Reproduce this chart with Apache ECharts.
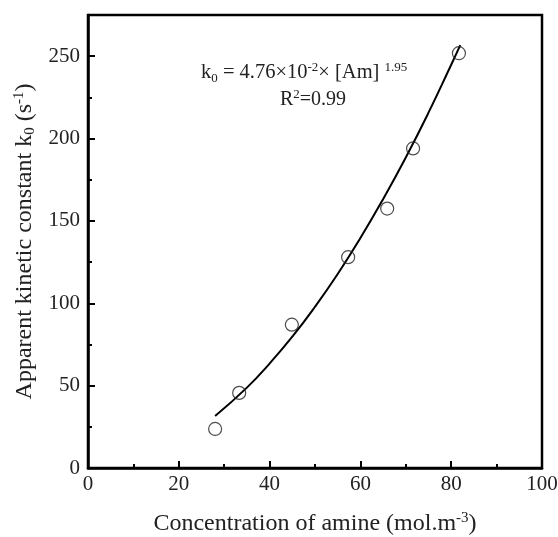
<!DOCTYPE html>
<html><head><meta charset="utf-8">
<script src="https://cdn.jsdelivr.net/npm/echarts@6/dist/echarts.min.js"></script>
<style>html,body{margin:0;padding:0;background:#fff}#c{width:558px;height:537px}</style>
</head><body><div id="c"></div>
<script>
// Measured points
const amineConc = [28.0, 33.3, 44.9, 57.3, 65.9, 71.6, 81.7];
const kApparent = [23.7, 45.6, 87.0, 128.0, 157.5, 194.0, 251.8];
// Fitted curve
const fitConc = [28, 35, 40, 45, 50, 55, 60, 65, 70, 75, 80, 82];
const fitK = [31.6, 48.8, 63.4, 79.7, 97.9, 117.8, 139.6, 163.2, 188.5, 215.7, 244.8, 256.7];
const xTicks = [0, 20, 40, 60, 80, 100];
const yTicks = [0, 50, 100, 150, 200, 250];

const font = '"Liberation Serif", "Times New Roman", serif';
const chart = echarts.init(document.getElementById('c'));
chart.setOption({
  animation: false,
  backgroundColor: '#fff',
  grid: {left: 88, right: 16, top: 15, bottom: 69, show: true, borderColor: '#000', borderWidth: 2.5,
    backgroundColor: 'transparent', containLabel: false, outerBoundsMode: 'none'},
  xAxis: {
    type: 'value', min: 0, max: 100, interval: 20,
    axisLine: {lineStyle: {color: '#000', width: 2.5}},
    axisTick: {inside: true, length: 7, lineStyle: {color: '#000', width: 2}},
    minorTick: {show: true, splitNumber: 2, length: 4, lineStyle: {color: '#000', width: 2}},
    splitLine: {show: false},
    axisLabel: {color: '#222', fontFamily: font, fontSize: 21, margin: 6},
    name: 'Concentration of amine (mol.m{sup|-3})',
    nameLocation: 'middle', nameGap: 43,
    nameTextStyle: {color: '#222', fontFamily: font, fontSize: 24,
      rich: {sup: {fontSize: 15, verticalAlign: 'top', padding: [0,0,11,0], fontFamily: font, color: '#222'}}}
  },
  yAxis: {
    type: 'value', min: 0, max: 275, interval: 50,
    axisLine: {lineStyle: {color: '#000', width: 2.5}},
    axisTick: {inside: true, length: 7, lineStyle: {color: '#000', width: 2}},
    minorTick: {show: true, splitNumber: 2, length: 4, lineStyle: {color: '#000', width: 2}},
    splitLine: {show: false},
    axisLabel: {color: '#222', fontFamily: font, fontSize: 21, margin: 8, showMaxLabel: false,
      formatter: v => yTicks.includes(v) ? String(v) : ''},
    name: 'Apparent kinetic constant k{sub|0} (s{sup|-1})',
    nameLocation: 'middle', nameGap: 50, nameRotate: 90,
    nameTextStyle: {color: '#222', fontFamily: font, fontSize: 24,
      rich: {sup: {fontSize: 15, fontFamily: font, color: '#222', padding: [0,0,11,0]},
             sub: {fontSize: 15, fontFamily: font, color: '#222', padding: [11,0,0,0]}}}
  },
  series: [
    {type: 'line', data: fitConc.map((x,i)=>[x, fitK[i]]), smooth: true, showSymbol: false,
     lineStyle: {color: '#000', width: 2}, z: 2},
    {type: 'scatter', data: amineConc.map((x,i)=>[x, kApparent[i]]), symbol: 'circle', symbolSize: 13,
     itemStyle: {color: 'rgba(255,255,255,0)', borderColor: '#222', borderWidth: 1.2}, z: 3}
  ],
  graphic: [
    {type: 'text', left: 201, top: 61, style: {
      text: 'k{sub|0} = 4.76×10{sup|-2}× [Am] {sup2|1.95}',
      font: '20.5px ' + font, fill: '#222',
      rich: {sub: {fontSize: 13, fontFamily: font, fill: '#222', padding: [12,0,0,0]},
             sup: {fontSize: 13, fontFamily: font, fill: '#222', padding: [0,0,10,0]},
             sup2: {fontSize: 13, fontFamily: font, fill: '#222', padding: [0,0,10,0]}}}},
    {type: 'text', left: 280, top: 88, style: {
      text: 'R{sup|2}=0.99', font: '20px ' + font, fill: '#222',
      rich: {sup: {fontSize: 13, fontFamily: font, fill: '#222', padding: [0,0,10,0]}}}}
  ]
});
</script></body></html>
